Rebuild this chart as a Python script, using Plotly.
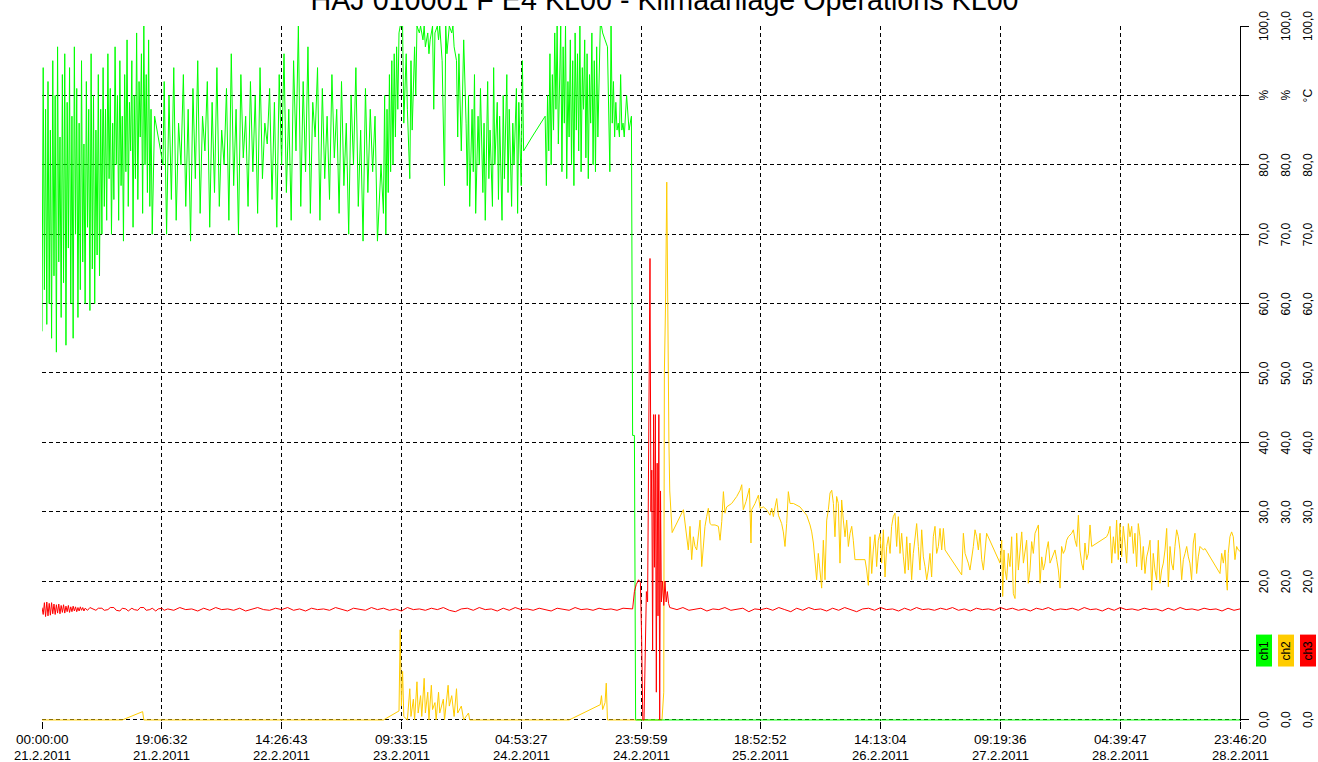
import plotly.graph_objects as go

# ---------------- data ----------------
title_text = "HAJ 010001 F E4 KL00 - Klimaanlage Operations KL00"

tick_pos = [0, 100, 200, 300, 400, 500, 600, 700, 800, 900, 1000]
tick_time = ["00:00:00", "19:06:32", "14:26:43", "09:33:15", "04:53:27", "23:59:59",
             "18:52:52", "14:13:04", "09:19:36", "04:39:47", "23:46:20"]
tick_date = ["21.2.2011", "21.2.2011", "22.2.2011", "23.2.2011", "24.2.2011", "24.2.2011",
             "25.2.2011", "26.2.2011", "27.2.2011", "28.2.2011", "28.2.2011"]

value_ticks = [0, 10, 20, 30, 40, 50, 60, 70, 80, 90, 100]
channel_names = ["ch1", "ch2", "ch3"]
channel_units = ["%", "%", "°C"]
channel_colors = ["#00ff00", "#ffcc00", "#ff0000"]

# ch1 (humidity %), samples as (time, value)
ch1_samples = [
    (0, 56), (1, 94), (2, 62), (3, 88), (4, 57), (5, 92), (6, 60), (7, 85), (8, 55), (9, 95),
    (10, 64), (11, 90), (12, 53), (13, 97), (14, 66), (15, 84), (16, 58), (17, 93), (18, 63), (19, 96),
    (20, 54), (21, 89), (22, 68), (23, 94), (24, 60), (25, 87), (26, 55), (27, 97), (28, 70), (29, 91),
    (30, 58), (31, 86), (32, 62), (33, 95), (34, 66), (35, 83), (36, 60), (37, 92), (38, 71), (39, 88),
    (40, 59), (41, 96), (42, 65), (43, 90), (44, 60), (45, 85), (46, 67), (47, 93), (48, 64), (49, 88),
    (50, 70), (51, 94), (52, 74), (53, 88), (54, 72), (55, 96), (56, 78), (57, 91), (58, 70), (59, 86),
    (60, 75), (61, 97), (62, 80), (63, 90), (64, 72), (65, 95), (66, 77), (67, 87), (68, 69), (69, 93),
    (70, 79), (71, 98), (72, 74), (73, 89), (74, 82), (75, 95), (76, 71), (77, 90), (78, 78), (79, 99),
    (80, 75), (81, 92), (82, 84), (83, 96), (84, 73), (85, 100), (86, 80), (87, 93), (88, 76), (89, 98),
    (90, 74), (91, 88), (92, 70), (94, 87), (101, 80),
    (102, 92), (104, 70), (106, 90), (108, 75), (110, 94), (112, 72), (114, 86), (116, 80), (118, 93), (120, 74),
    (122, 88), (124, 69), (126, 91), (128, 78), (130, 95), (132, 73), (134, 87), (136, 82), (138, 92), (140, 71),
    (142, 89), (144, 76), (146, 94), (148, 74), (150, 85), (152, 80), (154, 91), (156, 72), (158, 96), (160, 77),
    (162, 88), (164, 70), (166, 93), (168, 81), (170, 87), (172, 74), (174, 92), (176, 79), (178, 90), (180, 73),
    (182, 94), (184, 78), (186, 86), (188, 83), (190, 91), (192, 75), (194, 89), (196, 71), (198, 93), (200, 80),
    (202, 96), (204, 76), (206, 88), (208, 72), (210, 95), (212, 82), (214, 100), (216, 74), (218, 92), (220, 79),
    (222, 97), (224, 73), (226, 89), (228, 84), (230, 94), (232, 72), (234, 91), (236, 78), (238, 87), (240, 75),
    (242, 93), (244, 81), (246, 88), (248, 73), (250, 92), (252, 77), (254, 86), (256, 70), (258, 90), (260, 80),
    (262, 94), (264, 74), (266, 85), (268, 69), (270, 91), (272, 76), (274, 88), (276, 79), (278, 87), (280, 69),
    (283, 80), (285, 73), (286, 90), (287, 70), (288, 88), (289, 76), (290, 93), (291, 79), (292, 95), (293, 80),
    (294, 96), (295, 84), (296, 97), (297, 88), (298, 99), (299, 100), (301, 100), (302, 86), (304, 96), (305, 88),
    (307, 78), (308, 95), (309, 85), (311, 97), (312, 90), (313, 100), (315, 99), (316, 100), (318, 98), (319, 100),
    (320, 97), (322, 99), (323, 96), (324, 98), (326, 100), (327, 88), (328, 99), (330, 100), (331, 98), (332, 100),
    (334, 95), (336, 77), (337, 100), (338, 96), (340, 100), (342, 99), (343, 100), (344, 97), (346, 95), (347, 84),
    (348, 96), (350, 82), (351, 91), (352, 98), (354, 86), (355, 77), (356, 90), (357, 74), (359, 88), (360, 79),
    (361, 93), (362, 73), (364, 87), (365, 80), (366, 91), (368, 76), (369, 86), (370, 72), (372, 92), (373, 78),
    (374, 85), (376, 74), (377, 94), (378, 80), (380, 89), (381, 75), (382, 87), (384, 72), (385, 90), (386, 78),
    (388, 93), (389, 76), (390, 88), (392, 74), (393, 86), (394, 80), (396, 91), (397, 73), (398, 89), (400, 77),
    (401, 95), (402, 82), (409, 84), (420, 87),
    (421, 77), (422, 90), (423, 82), (424, 96), (425, 80), (426, 93), (427, 85), (428, 99), (429, 88), (430, 100),
    (431, 83), (432, 95), (433, 100), (434, 79), (435, 97), (436, 86), (437, 100), (438, 78), (439, 92), (440, 84),
    (441, 98), (442, 80), (443, 95), (444, 77), (445, 99), (446, 85), (447, 96), (448, 82), (449, 100), (450, 79),
    (451, 94), (452, 88), (453, 98), (454, 81), (455, 96), (456, 78), (457, 93), (458, 86), (459, 99), (460, 80),
    (461, 95), (462, 79), (463, 97), (464, 84), (465, 92), (466, 100), (467, 100), (468, 99), (470, 98), (472, 97),
    (474, 79), (475, 100), (476, 86), (477, 92), (478, 84), (479, 89), (480, 85), (481, 86), (482, 84), (483, 93),
    (484, 85), (485, 86), (486, 84), (488, 90), (490, 85), (492, 87), (493, 41), (494.5, 41), (495.5, 0), (1000, 0),
]

# ch2 (humidity %), samples as (time, value)
ch2_samples = [
    (0, 0), (67, 0), (84, 1.2), (85, 0), (285, 0), (298, 1.3), (299, 13), (300, 2), (301, 7), (302, 0.5),
    (305, 0), (307, 4.5), (308, 0.5), (310, 3), (311, 0), (313, 5.5), (314, 1), (316, 3.5), (317, 0.5), (319, 6),
    (320, 1), (322, 4), (323, 0), (325, 5), (326, 1.5), (328, 2.5), (329, 0), (331, 4), (332, 1), (335, 3),
    (336, 0), (339, 5), (340, 2), (342, 3.5), (344, 0.5), (346, 4.5), (347, 1), (350, 2), (352, 0), (356, 1),
    (357, 0), (440, 0), (466, 2.2), (467, 3.5), (468, 1.5), (470, 2.5), (471, 5.3), (472, 0), (517.5, 0), (519, 4),
    (519.5, 50), (520.5, 60), (521.5, 77.5), (522.3, 57.6), (522.8, 50), (523.3, 40), (524, 33), (526, 27),
    (535.4, 30.3), (538.1, 26.4), (539.5, 24.5), (540.9, 27.9), (542.3, 23.1), (543.7, 26.4), (545.1, 25.0),
    (546.5, 24.5), (547.9, 26.9), (549.3, 28.8), (550.7, 22.1), (552.1, 25.0), (553.4, 27.9), (554.8, 29.3),
    (556.2, 30.5), (557.6, 28.3), (559.0, 28.1), (561.8, 28.1), (564.6, 27.9), (566.0, 25.9), (567.4, 28.6),
    (568.8, 32.9), (570.1, 29.8), (571.5, 30.7), (575.7, 31.2), (579.9, 32.2), (582.7, 33.1), (584.1, 33.9),
    (585.4, 30.3), (587.7, 31.5), (588.8, 32.4), (590.5, 33.4), (591.8, 25.5), (592.4, 30.3), (595.2, 31.2),
    (596.6, 31.9), (598.0, 32.4), (599.4, 30.5), (602.1, 30.7), (604.9, 30.3), (607.7, 29.5), (609.1, 30.5),
    (610.5, 29.3), (611.9, 30.7), (613.3, 31.9), (614.7, 29.5), (617.4, 28.3), (618.8, 27.1), (620.2, 25.0),
    (621.6, 28.3), (623.0, 32.9), (624.4, 31.2), (627.2, 31.2), (632.7, 30.7), (638.3, 29.5), (641.1, 28.1),
    (642.5, 27.1), (643.9, 25.5), (645.3, 23.1), (646.6, 20.2), (648.0, 24.0), (649.4, 21.6), (650.8, 19.0),
    (652.2, 25.9), (653.6, 20.2), (655.0, 28.8), (656.4, 30.3), (657.8, 32.7), (659.2, 33.1), (660.6, 31.2),
    (661.9, 26.4), (663.3, 32.2), (664.7, 31.2), (666.1, 22.6), (667.5, 31.7), (668.9, 28.8), (670.3, 26.4),
    (671.7, 28.8), (673.1, 25.0), (674.5, 26.9), (675.9, 27.9), (677.2, 25.9), (678.6, 23.1), (682.8, 23.1),
    (687.0, 23.1), (688.4, 21.6), (689.8, 19.4), (691.2, 26.4), (692.6, 21.1), (693.9, 24.5), (695.3, 26.7),
    (696.7, 22.1), (698.1, 25.9), (699.5, 26.9), (700.9, 22.6), (702.3, 27.4), (703.7, 20.6), (705.1, 25.0),
    (706.5, 26.4), (707.9, 24.0), (709.2, 27.9), (710.6, 29.3), (712.0, 29.8), (713.4, 25.0), (714.8, 29.3),
    (716.2, 24.0), (717.6, 26.9), (719.0, 23.5), (720.4, 21.1), (721.8, 26.4), (723.2, 21.6), (724.5, 25.5),
    (725.9, 20.2), (727.3, 24.0), (728.7, 26.4), (730.1, 28.3), (731.5, 25.0), (732.9, 21.6), (734.3, 27.4),
    (735.7, 23.5), (737.1, 22.1), (738.5, 20.2), (739.8, 21.6), (741.2, 24.0), (742.6, 20.6), (744.0, 26.4),
    (745.4, 27.9), (746.8, 24.0), (748.2, 25.0), (749.6, 27.6), (751.0, 24.5), (752.4, 27.6), (753.8, 24.5),
    (767.7, 20.9), (769.1, 26.9), (770.5, 24.0), (773.2, 22.6), (774.6, 21.6), (777.4, 25.0), (778.8, 27.4),
    (780.2, 26.4), (781.6, 24.5), (783.0, 26.9), (784.4, 23.1), (785.8, 21.6), (787.2, 24.0), (788.5, 26.9),
    (799.7, 22.6), (801.1, 25.9), (801.9, 17.8), (803.0, 24.5), (803.9, 21.6), (805.2, 20.2), (806.6, 24.0),
    (808.0, 22.1), (809.4, 26.4), (810.8, 18.2), (812.2, 17.5), (813.6, 26.9), (815.0, 21.6), (816.4, 24.5),
    (817.8, 27.1), (819.2, 22.6), (820.5, 24.0), (821.9, 25.9), (823.3, 19.7), (824.7, 21.6), (826.1, 25.7),
    (827.5, 24.0), (828.9, 26.9), (830.3, 27.4), (831.7, 28.1), (833.1, 19.7), (834.5, 23.5), (835.8, 21.6),
    (837.2, 22.6), (838.6, 24.5), (840.0, 25.7), (841.4, 22.6), (844.2, 24.0), (845.6, 24.5), (847.0, 23.1),
    (848.4, 21.6), (849.8, 19.0), (851.1, 25.0), (852.5, 24.0), (853.9, 24.5), (855.3, 25.9), (856.7, 26.4),
    (859.5, 26.9), (860.9, 27.4), (862.3, 25.9), (863.7, 25.0), (865.1, 29.5), (866.4, 24.5), (867.8, 22.6),
    (869.2, 21.6), (870.6, 25.5), (872.0, 23.1), (873.4, 24.0), (874.8, 28.1), (876.2, 25.0), (888.7, 26.4),
    (890.1, 26.9), (891.5, 27.9), (892.9, 22.6), (894.3, 26.4), (895.7, 24.0), (897.0, 28.8), (898.4, 23.1),
    (899.8, 28.3), (901.2, 23.5), (902.6, 27.9), (904.0, 25.5), (905.4, 22.6), (906.8, 28.3), (908.2, 26.4),
    (909.6, 27.9), (911.0, 24.0), (912.3, 26.9), (913.7, 22.1), (915.1, 28.3), (916.5, 26.4), (917.9, 21.6),
    (919.3, 25.0), (920.7, 21.1), (922.1, 23.5), (923.5, 24.5), (924.9, 25.9), (926.3, 18.7), (927.6, 24.0),
    (929.0, 21.6), (930.4, 20.2), (931.8, 25.9), (933.2, 19.7), (934.6, 21.6), (936.0, 22.6), (937.4, 24.5),
    (938.8, 27.6), (940.2, 19.2), (941.6, 25.0), (942.9, 22.6), (944.3, 21.6), (945.7, 25.0), (947.1, 27.4),
    (948.5, 26.4), (949.9, 24.5), (951.3, 20.2), (952.7, 23.1), (954.1, 24.0), (955.5, 25.0), (956.9, 23.5),
    (958.2, 22.6), (959.6, 20.2), (961.0, 25.5), (962.4, 26.9), (963.8, 21.1), (965.2, 23.5), (966.6, 25.0),
    (969.4, 24.5), (970.8, 24.7), (983.3, 21.1), (984.7, 24.0), (986.1, 22.6), (987.5, 24.5), (988.9, 19.7),
    (989.4, 18.7), (990.2, 24.0), (991.6, 26.4), (993.0, 27.1), (994.4, 26.4), (995.8, 23.1), (997.2, 25.0),
    (998.6, 24.5), (1000, 24.3),
]

# ch3 (temperature °C), samples as (time, value)
ch3_samples = [
    (0, 16.2), (1, 15.2), (2, 16.9), (3, 14.9), (4, 17.0), (5, 15.0), (6, 16.8), (7, 15.1), (8, 16.9),
    (9, 15.3), (10, 16.7), (11, 15.2), (12, 16.6), (13, 15.4), (14, 16.7), (15, 15.3), (16, 16.5), (17, 15.5),
    (18, 16.6), (19, 15.4), (20, 16.4), (21, 15.6), (22, 16.5), (23, 15.5), (24, 16.3), (25, 15.6), (26, 16.4),
    (27, 15.7), (28, 16.3), (29, 15.6), (30, 16.2), (31, 15.7), (32, 16.3), (33, 15.8), (34, 16.2), (35, 15.7),
    (36, 16.1), (38, 15.8), (40, 16.2),
    (43, 15.9), (45, 15.8), (47, 16.1), (50, 16.1), (52, 15.8), (55, 15.9), (57, 16.2), (60, 16.2), (62, 15.8),
    (65, 15.7), (67, 16.1), (70, 16.0), (72, 15.7), (75, 16.1), (77, 15.9), (80, 15.8), (82, 16.2), (85, 16.2),
    (87, 15.8), (90, 15.9), (92, 16.1), (95, 15.7), (97, 16.0), (100, 16.1), (102, 15.8), (105, 16.0),
    (110, 15.8), (115, 16.2), (120, 15.9), (125, 16.0), (130, 15.7), (135, 16.1), (140, 15.8), (145, 16.2),
    (150, 15.9), (155, 16.0), (160, 15.8), (165, 16.1), (170, 15.7), (175, 16.0), (180, 16.2), (185, 15.9),
    (190, 15.8), (195, 16.1), (200, 15.9), (205, 16.2), (210, 15.8), (215, 16.0), (220, 15.7), (225, 16.1),
    (230, 15.9), (235, 16.0), (240, 15.8), (245, 16.2), (250, 15.9), (255, 15.7), (260, 16.1), (265, 16.0),
    (270, 15.8), (275, 16.2), (280, 15.9), (285, 16.1), (290, 15.8), (295, 16.0), (300, 15.7), (305, 16.2),
    (310, 15.9), (315, 16.0), (320, 15.8), (325, 16.1), (330, 15.9), (335, 16.2), (340, 15.8), (345, 15.6),
    (350, 16.0), (355, 16.1), (360, 15.8), (365, 16.2), (370, 15.9), (375, 16.0), (380, 15.7), (385, 16.1),
    (390, 15.8), (395, 16.2), (400, 15.9), (405, 16.0), (410, 15.8), (415, 16.1), (420, 15.9), (425, 15.7),
    (430, 16.1), (435, 16.0), (440, 15.8), (445, 16.2), (450, 15.9), (455, 16.0), (460, 15.8), (465, 16.1),
    (470, 15.9), (475, 16.0), (480, 15.8), (485, 16.1), (490, 16.0),
    (493, 16.0), (494.5, 18.5), (496, 19.5), (498, 20.2), (499.5, 19.8), (500.5, 12), (501.5, 0), (502.5, 0),
    (503.5, 10), (504.5, 18.5), (505.5, 17), (506.5, 41), (507.5, 66.5), (508.3, 30), (509, 36), (509.7, 10),
    (510.5, 44), (511.2, 22), (512, 44), (512.8, 4), (513.5, 37), (514.2, 15), (514.9, 44), (515.6, 0),
    (516.3, 33), (517, 17), (518, 20), (519, 16.5), (520, 20), (521, 17), (522, 18.5), (523, 16.8), (524, 16.2),
    (530, 15.9), (535, 16.2), (540, 15.8), (545, 16.0), (550, 16.1), (555, 15.7), (560, 16.0), (565, 15.9),
    (570, 16.2), (575, 15.8), (580, 16.0), (585, 16.1), (590, 15.6), (595, 16.0), (600, 15.9), (605, 16.1),
    (610, 15.8), (615, 16.2), (620, 15.9), (625, 15.6), (630, 16.1), (635, 15.8), (640, 16.2), (645, 15.9),
    (650, 16.0), (655, 15.7), (660, 16.1), (665, 15.8), (670, 16.2), (675, 15.9), (680, 15.6), (685, 16.0),
    (690, 16.1), (695, 15.8), (700, 16.2), (705, 15.9), (710, 16.0), (715, 15.7), (720, 16.1), (725, 15.8),
    (730, 16.2), (735, 15.9), (740, 16.0), (745, 15.8), (750, 16.1), (755, 15.9), (760, 16.2), (765, 15.8),
    (770, 16.0), (775, 15.7), (780, 16.1), (785, 15.9), (790, 16.0), (795, 15.8), (800, 16.2), (805, 15.9),
    (810, 16.1), (815, 15.8), (820, 16.0), (825, 15.7), (830, 16.1), (835, 15.9), (840, 16.2), (845, 15.8),
    (850, 16.0), (855, 15.9), (860, 16.1), (865, 15.8), (870, 16.2), (875, 15.9), (880, 16.0), (885, 15.7),
    (890, 16.1), (895, 15.8), (900, 16.2), (905, 15.9), (910, 16.0), (915, 15.8), (920, 16.1), (925, 15.9),
    (930, 16.0), (935, 15.7), (940, 16.1), (945, 15.8), (950, 16.2), (955, 15.9), (960, 16.0), (965, 15.8),
    (970, 16.1), (975, 15.9), (980, 16.0), (985, 15.7), (990, 16.1), (995, 15.8), (1000, 16.0),
]

# ---------------- figure ----------------
FONT = "Liberation Sans, Arial, sans-serif"


def split(samples):
    return [s[0] for s in samples], [s[1] for s in samples]


fig = go.Figure()
for samples, color in [(ch2_samples, channel_colors[1]),
                       (ch1_samples, channel_colors[0]),
                       (ch3_samples, channel_colors[2])]:
    t, v = split(samples)
    fig.add_trace(go.Scatter(x=t, y=v, mode="lines", line=dict(color=color, width=1),
                             hoverinfo="skip", showlegend=False))

fig.update_layout(
    width=1318, height=762,
    margin=dict(l=42, r=78, t=26, b=41, autoexpand=False),
    paper_bgcolor="white", plot_bgcolor="white",
    font=dict(family=FONT, color="black"),
    showlegend=False,
    title=dict(text=title_text, font=dict(family=FONT, size=28.7, color="black"),
               x=0.5042, xanchor="center", xref="container",
               y=1.0, yanchor="middle", yref="container"),
    xaxis=dict(range=[0, 1000], tickmode="array", tickvals=tick_pos, showticklabels=False,
               ticks="outside", ticklen=7, tickcolor="black", tickwidth=1,
               showgrid=True, gridcolor="black", gridwidth=1, griddash="4px,3px",
               zeroline=False, showline=False),
    yaxis=dict(range=[-0.15, 100], side="right", tickmode="array", tickvals=value_ticks,
               ticks="outside", ticklen=8, tickcolor="black", tickwidth=1,
               showticklabels=False, showline=True, linecolor="black", linewidth=1,
               showgrid=True, gridcolor="black", gridwidth=1, griddash="4px,3px",
               zeroline=False),
)

annotations = []
shapes = []

# x-axis labels (time line + date line)
for tp, tt, td in zip(tick_pos, tick_time, tick_date):
    annotations.append(dict(x=tp, y=0, xref="x", yref="paper", text=tt, showarrow=False,
                            xanchor="center", yanchor="middle", yshift=-18,
                            font=dict(size=13.5, family=FONT, color="black")))
    annotations.append(dict(x=tp, y=0, xref="x", yref="paper", text=td, showarrow=False,
                            xanchor="center", yanchor="middle", yshift=-34,
                            font=dict(size=13, family=FONT, color="black")))

# right-hand scale columns
col_x_px = [1264, 1286, 1308]
plot_left, plot_w = 42, 1198
for ci, cx in enumerate(col_x_px):
    xp = (cx - plot_left) / plot_w
    for v in value_ticks:
        if v == 10:
            continue
        txt = channel_units[ci] if v == 90 else f"{v:.1f}".replace(".", ",")
        annotations.append(dict(x=xp, y=v, xref="paper", yref="y", text=txt, textangle=-90,
                                showarrow=False, xanchor="center", yanchor="middle",
                                font=dict(size=12, family=FONT, color="black")))
    # legend box
    x0 = (cx - 8 - plot_left) / plot_w
    x1 = (cx + 8 - plot_left) / plot_w
    shapes.append(dict(type="rect", xref="paper", yref="y", x0=x0, x1=x1, y0=7.7, y1=12.3,
                       fillcolor=channel_colors[ci], line=dict(width=0), layer="above"))
    annotations.append(dict(x=xp, y=10, xref="paper", yref="y", text=channel_names[ci], textangle=-90,
                            showarrow=False, xanchor="center", yanchor="middle",
                            font=dict(size=12, family=FONT, color="black")))

fig.update_layout(annotations=annotations, shapes=shapes)

fig.write_html("out.html", config={"displayModeBar": False},
               post_script="document.body.style.margin='0';")
